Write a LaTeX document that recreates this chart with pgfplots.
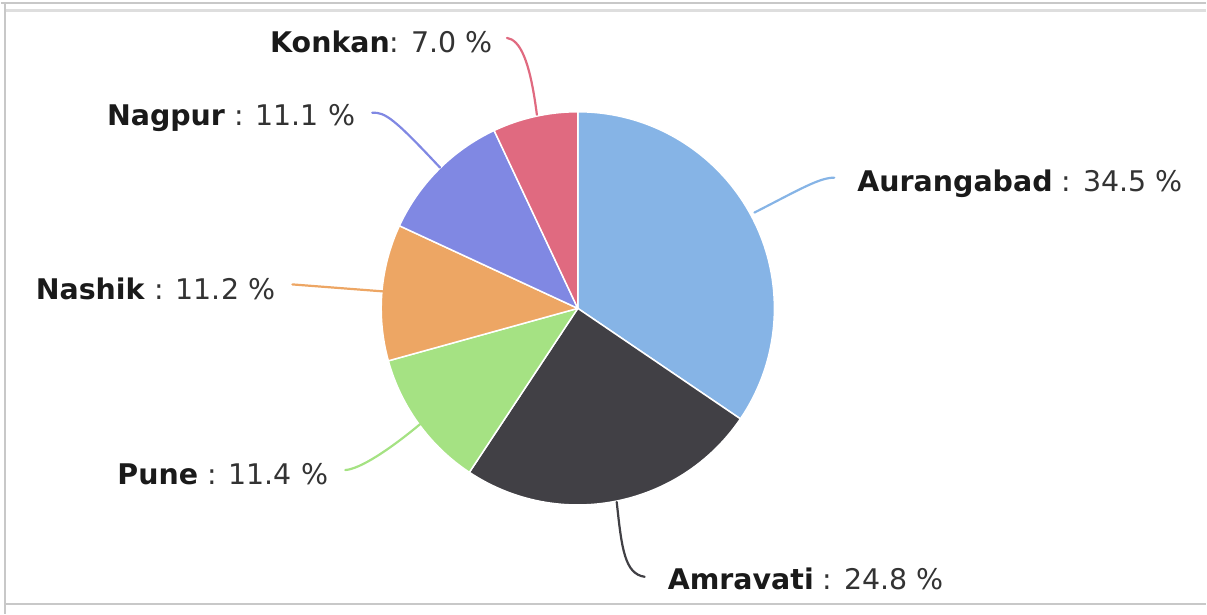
\documentclass[border=0pt]{standalone}
\usepackage{pgfplots}
\pgfplotsset{compat=1.18}
\usepackage{fontspec}
\setmainfont{DejaVu Sans}
\definecolor{cA}{HTML}{86B4E6}
\definecolor{cB}{HTML}{414045}
\definecolor{cC}{HTML}{A5E283}
\definecolor{cD}{HTML}{EDA664}
\definecolor{cE}{HTML}{8088E3}
\definecolor{cF}{HTML}{E06A80}
\definecolor{nameC}{HTML}{1A1A1A}
\definecolor{valC}{HTML}{333333}
\definecolor{frameC}{HTML}{C8C8C8}
\begin{document}
\begin{tikzpicture}
\begin{axis}[x=1pt, y=1pt, y dir=reverse, xmin=0, xmax=1207, ymin=0, ymax=615,
  hide axis, clip=false]
\path (axis cs:0,0) rectangle (axis cs:1207,615);
% frame
\draw[frameC, line width=2pt] (axis cs:0,3) -- (axis cs:1207,3);
\draw[frameC!60, line width=3pt] (axis cs:5,11) -- (axis cs:1207,11);
\draw[frameC, line width=2pt] (axis cs:4,3) -- (axis cs:4,615);
\draw[frameC, line width=2pt] (axis cs:4,605) -- (axis cs:1207,605);
% pie slices (values in percent, clockwise from top)
\xdef\cum{0}
\foreach \v/\c in {34.5/cA, 24.8/cB, 11.4/cC, 11.2/cD, 11.1/cE, 7.0/cF} {
  \pgfmathsetmacro\a{90-3.6*\cum}
  \pgfmathsetmacro\b{90-3.6*(\cum+\v)}
  \edef\temp{\noexpand\fill[\c, draw=white, line width=1.5pt, line join=round]
     (axis cs:578,309) -- ++(\a:197pt) arc[start angle=\a, end angle=\b, radius=197pt] -- cycle;}
  \temp
  \pgfmathsetmacro\nc{\cum+\v}
  \xdef\cum{\nc}
}
% connectors
\tikzset{conn/.style={line width=2.2pt, line cap=round}}
\draw[cF, conn] (axis cs:507,38) .. controls (axis cs:520,40) and (axis cs:530,60) .. (axis cs:537,115);
\draw[cE, conn] (axis cs:372,113) .. controls (axis cs:385,112) and (axis cs:395,120) .. (axis cs:440,168);
\draw[cD, conn] (axis cs:292,285) -- (axis cs:383,292);
\draw[cC, conn] (axis cs:345,471) .. controls (axis cs:360,470) and (axis cs:390,450) .. (axis cs:420,425);
\draw[cB, conn] (axis cs:645,578) .. controls (axis cs:625,575) and (axis cs:622,550) .. (axis cs:617,503);
\draw[cA, conn] (axis cs:835,178) .. controls (axis cs:820,178) and (axis cs:800,190) .. (axis cs:755,213);
% labels
\tikzset{lab/.style={font=\fontsize{28.5}{31}\selectfont, inner sep=0pt}}
\node[lab, anchor=base east] at (axis cs:493,53) {\textcolor{nameC}{\textbf{Konkan}}\textcolor{valC}{: 7.0 \%}};
\node[lab, anchor=base east] at (axis cs:355,126) {\textcolor{nameC}{\textbf{Nagpur}}\textcolor{valC}{\ : 11.1 \%}};
\node[lab, anchor=base east] at (axis cs:275,300) {\textcolor{nameC}{\textbf{Nashik}}\textcolor{valC}{\ : 11.2 \%}};
\node[lab, anchor=base east] at (axis cs:328,485) {\textcolor{nameC}{\textbf{Pune}}\textcolor{valC}{\ : 11.4 \%}};
\node[lab, anchor=base west] at (axis cs:668,591) {\textcolor{nameC}{\textbf{Amravati}}\textcolor{valC}{\ : 24.8 \%}};
\node[lab, anchor=base west] at (axis cs:858,192) {\textcolor{nameC}{\textbf{Aurangabad}}\textcolor{valC}{\ : 34.5 \%}};
\end{axis}
\end{tikzpicture}
\end{document}
